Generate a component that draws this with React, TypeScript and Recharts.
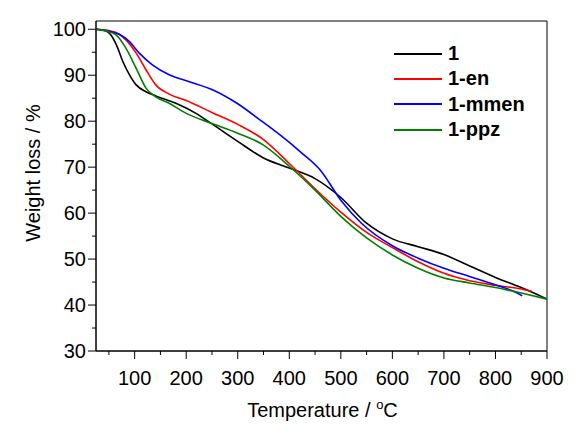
import { LineChart, Line, XAxis, YAxis, ReferenceArea, Label } from "recharts";

// temperatures (°C) and remaining weight (%)
const temps1 = [25, 40, 55, 65, 77, 90, 103, 122, 141, 180, 219, 250, 300, 350, 400, 450, 500, 550, 600, 650, 700, 750, 800, 850, 900];
const weight1 = [100, 99.8, 98.6, 96.5, 93.0, 90.1, 87.9, 86.4, 85.5, 83.9, 81.7, 79.4, 75.6, 72.0, 69.8, 67.5, 63.4, 57.8, 54.4, 52.7, 51.0, 48.5, 46.0, 43.8, 41.3];

const tempsEn = [25, 50, 64, 83, 103, 122, 141, 167, 200, 250, 300, 350, 400, 450, 500, 550, 600, 650, 700, 750, 800, 850, 870];
const weightEn = [100, 99.7, 99.3, 97.7, 94.8, 91.2, 87.9, 85.9, 84.5, 81.9, 79.3, 76.0, 70.8, 65.3, 60.2, 55.8, 52.5, 49.4, 46.9, 45.3, 44.3, 43.5, 43.0];

const tempsMmen = [25, 50, 70, 90, 109, 135, 167, 206, 252, 300, 343, 382, 421, 460, 500, 540, 600, 650, 700, 750, 800, 835, 852];
const weightMmen = [100, 99.6, 98.9, 97.3, 94.8, 92.2, 90.1, 88.6, 86.8, 83.8, 80.3, 77.0, 73.4, 69.4, 62.8, 57.8, 52.9, 50.2, 48.0, 46.2, 44.4, 43.0, 42.0];

const tempsPpz = [25, 45, 64, 83, 103, 122, 141, 167, 200, 250, 300, 350, 400, 450, 500, 550, 600, 650, 700, 750, 800, 850, 900];
const weightPpz = [100, 99.6, 98.8, 95.9, 91.5, 87.2, 85.3, 83.9, 81.7, 79.5, 77.4, 74.8, 70.2, 65.0, 59.3, 54.6, 50.9, 48.0, 45.9, 44.8, 43.8, 42.6, 41.3];

const seriesNames = ["1", "1-en", "1-mmen", "1-ppz"];
const seriesColors = ["#000000", "#ff0000", "#0000ff", "#008000"];

const xTicks = [50, 100, 150, 200, 250, 300, 350, 400, 450, 500, 550, 600, 650, 700, 750, 800, 850, 900];
const yTicks = [30, 35, 40, 45, 50, 55, 60, 65, 70, 75, 80, 85, 90, 95, 100];

const font = "'Liberation Sans', Arial, sans-serif";

const toPoints = (t: number[], w: number[]) => t.map((x, i) => ({ t: x, w: w[i] }));

const series = [
  toPoints(temps1, weight1),
  toPoints(tempsEn, weightEn),
  toPoints(tempsMmen, weightMmen),
  toPoints(tempsPpz, weightPpz),
];

const XTick = (props: any) => {
  const { x, y, payload } = props;
  const major = payload.value % 100 === 0;
  return (
    <g>
      <line x1={x} y1={y} x2={x} y2={y + (major ? 8 : 4)} stroke="#000" />
      {major && (
        <text x={x} y={y + 34} textAnchor="middle" fontSize={20} fontFamily={font} fill="#000">
          {payload.value}
        </text>
      )}
    </g>
  );
};

const YTick = (props: any) => {
  const { x, y, payload } = props;
  const major = payload.value % 10 === 0;
  return (
    <g>
      <line x1={x - (major ? 8 : 4)} y1={y} x2={x} y2={y} stroke="#000" />
      {major && (
        <text x={x - 10} y={y + 7} textAnchor="end" fontSize={20} fontFamily={font} fill="#000">
          {payload.value}
        </text>
      )}
    </g>
  );
};

export default function App() {
  return (
    <div style={{ position: "absolute", left: 0, top: 0, width: 584, height: 426, background: "#fff" }}>
      <LineChart width={584} height={426} margin={{ top: 21, right: 37, left: 0, bottom: 0 }}>
        <XAxis
          dataKey="t"
          type="number"
          domain={[25, 900]}
          ticks={xTicks}
          interval={0}
          allowDataOverflow
          height={75}
          tickSize={0}
          tickMargin={0}
          tick={<XTick />}
          axisLine={{ stroke: "#000" }}
        >
          <Label
            content={(p: any) => {
              const vb = p.viewBox;
              return (
                <text x={vb.x + vb.width / 2 + 1} y={vb.y + 66} textAnchor="middle" fontSize={20} fontFamily={font} fill="#000">
                  Temperature / <tspan fontSize={13} dy={-8}>o</tspan>
                  <tspan dy={8}>C</tspan>
                </text>
              );
            }}
          />
        </XAxis>
        <YAxis
          dataKey="w"
          type="number"
          domain={[30, 101.8]}
          ticks={yTicks}
          interval={0}
          allowDataOverflow
          width={96}
          tickSize={0}
          tickMargin={0}
          tick={<YTick />}
          axisLine={{ stroke: "#000" }}
        >
          <Label
            content={(p: any) => {
              const vb = p.viewBox;
              const cx = vb.x + 33;
              const cy = vb.y + vb.height / 2 - 13;
              return (
                <text
                  x={cx}
                  y={cy}
                  transform={`rotate(-90 ${cx} ${cy})`}
                  textAnchor="middle"
                  dominantBaseline="central"
                  fontSize={20}
                  fontFamily={font}
                  fill="#000"
                >
                  Weight loss / %
                </text>
              );
            }}
          />
        </YAxis>
        <ReferenceArea x1={25} x2={900} y1={30} y2={101.8} fill="none" stroke="#000" strokeWidth={1} />
        {series.map((d, i) => (
          <Line
            key={seriesNames[i]}
            data={d}
            dataKey="w"
            name={seriesNames[i]}
            type="monotone"
            stroke={seriesColors[i]}
            strokeWidth={1.6}
            dot={false}
            isAnimationActive={false}
          />
        ))}
      </LineChart>
      <div style={{ position: "absolute", left: 394, top: 41, fontFamily: font, fontSize: 20, fontWeight: "bold" }}>
        {seriesNames.map((n, i) => (
          <div key={n} style={{ display: "flex", alignItems: "center", height: 25.3 }}>
            <div style={{ width: 48, height: 2, background: seriesColors[i], marginRight: 6 }} />
            <span>{n}</span>
          </div>
        ))}
      </div>
    </div>
  );
}
